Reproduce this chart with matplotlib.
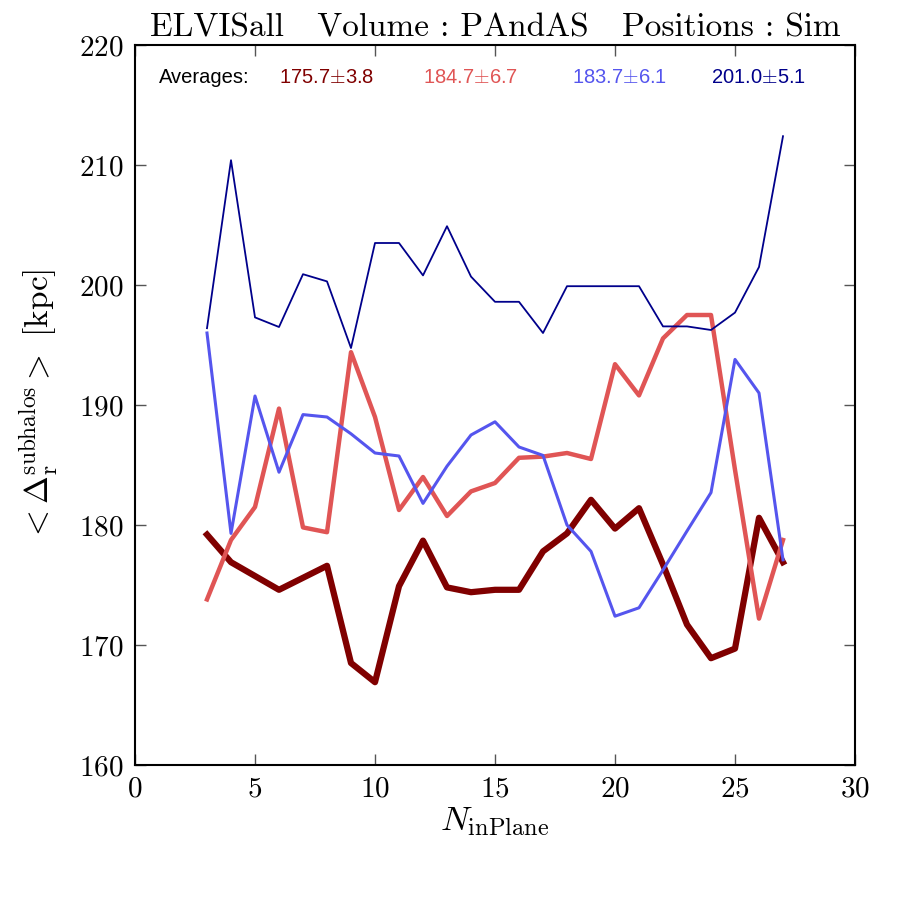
import matplotlib
matplotlib.use('Agg')
import matplotlib.pyplot as plt
import numpy as np

plt.rcParams['mathtext.fontset'] = 'cm'
plt.rcParams['font.family'] = 'cmr10'
plt.rcParams['axes.formatter.use_mathtext'] = True

# data
n_inplane = list(range(3, 28))
dark_red = [179.2, 176.9, 175.75, 174.6, 175.6, 176.6, 168.5, 166.9, 174.9, 178.7,
            174.8, 174.4, 174.6, 174.6, 177.8, 179.3, 182.1, 179.7, 181.4, 176.7,
            171.7, 168.9, 169.7, 180.6, 176.9]
light_red = [173.8, 178.75, 181.5, 189.7, 179.8, 179.4, 194.4, 189.0, 181.25, 184.0,
             180.75, 182.8, 183.5, 185.6, 185.7, 186.0, 185.5, 193.4, 190.8, 195.55,
             197.5, 197.5, 184.6, 172.2, 178.75]
light_blue = [196.0, 179.3, 190.75, 184.4, 189.2, 189.0, 187.6, 186.0, 185.75, 181.8,
              184.9, 187.5, 188.6, 186.5, 185.8, 180.0, 177.8, 172.4, 173.1, 176.25,
              179.5, 182.7, 193.8, 191.0, 177.1]
navy = [196.4, 210.4, 197.3, 196.5, 200.9, 200.3, 194.75, 203.5, 203.5, 200.8,
        204.9, 200.7, 198.6, 198.6, 196.0, 199.9, 199.9, 199.9, 199.9, 196.55,
        196.55, 196.25, 197.7, 201.5, 212.4]

avg_labels = ['175.7$\\pm$3.8', '184.7$\\pm$6.7', '183.7$\\pm$6.1', '201.0$\\pm$5.1']
colors = ['#800000', '#e05555', '#5555ee', '#00008b']
widths = [4.5, 3.2, 2.2, 1.3]
avg_x = [6.0, 12.0, 18.2, 24.0]

fig = plt.figure(figsize=(9, 9), dpi=100)
ax = fig.add_axes([0.15, 0.15, 0.80, 0.80])

series = [dark_red, light_red, light_blue, navy]
for vals, c, lw in zip(series, colors, widths):
    ax.plot(n_inplane, vals, color=c, lw=lw)

ax.set_xlim(0, 30)
ax.set_ylim(160, 220)
ax.set_xticks(np.arange(0, 31, 5))
ax.set_yticks(np.arange(160, 221, 10))
ax.tick_params(direction='in', length=8, width=1, color='#555555',
               top=True, right=True, labelsize=21, pad=8)
for s in ax.spines.values():
    s.set_linewidth(1.5)

ax.set_title('ELVISall   Volume : PAndAS   Positions : Sim', fontsize=24, pad=6)
ax.set_xlabel(r'$N_{\rm inPlane}$', fontsize=25, labelpad=2)
ax.set_ylabel(r'$<\Delta_{\rm r}^{\rm subhalos}>$ [kpc]', fontsize=24, labelpad=14)

ax.text(1.0, 217.3, 'Averages:', fontsize=14.5, family='Liberation Sans', va='center')
for x, lab, c in zip(avg_x, avg_labels, colors):
    ax.text(x, 217.3, lab, fontsize=14.5, color=c, family='Liberation Sans', va='center')

fig.savefig('out.png', dpi=100)
